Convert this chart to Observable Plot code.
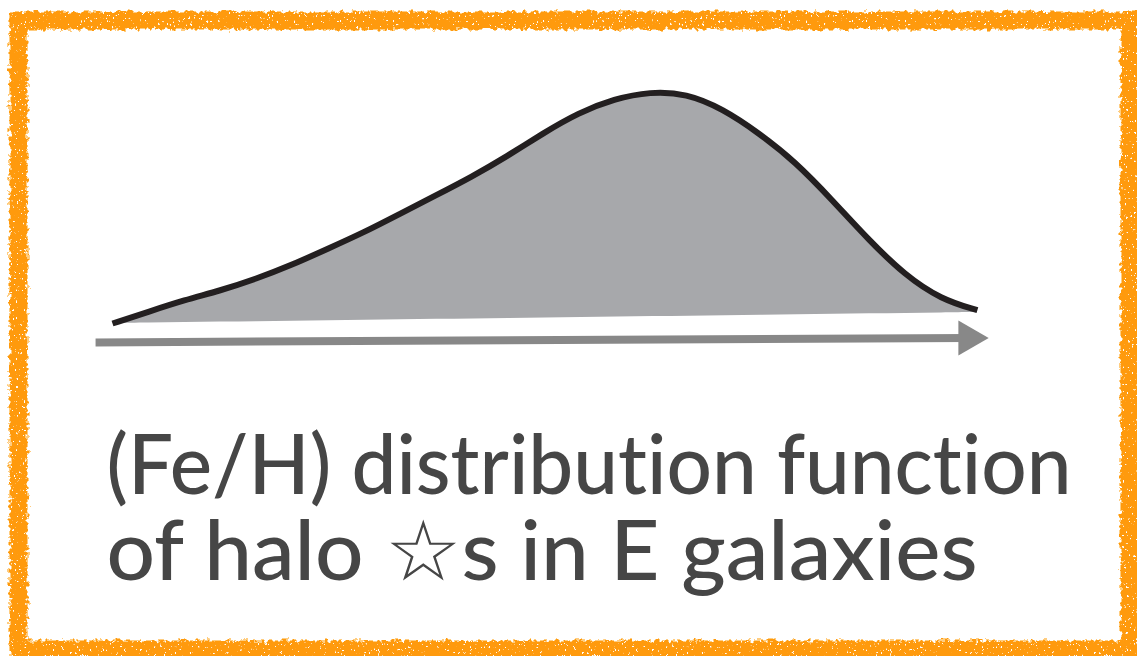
<!DOCTYPE html>
<html>
<head>
<meta charset="utf-8">
<script src="https://cdn.jsdelivr.net/npm/d3@7"></script>
<script src="https://cdn.jsdelivr.net/npm/@observablehq/plot@0.6"></script>
<style>
  body { margin: 0; background: #ffffff; }
  #chart svg { display: block; }
  #chart text { font-variant-ligatures: none; }
</style>
</head>
<body>
<div id="chart"></div>
<script>
// Metallicity grid ([Fe/H]) and relative number of halo stars at each value
const feh = [-2.0, -1.9, -1.8, -1.7, -1.6, -1.5, -1.4, -1.3, -1.2, -1.1, -1.0, -0.9, -0.8,
             -0.7, -0.6, -0.5, -0.4, -0.3, -0.2, -0.1, 0.0, 0.1, 0.2, 0.3, 0.4];
const density = [0.00, 0.05, 0.10, 0.14, 0.19, 0.25, 0.32, 0.39, 0.47, 0.55, 0.63, 0.72, 0.82,
                 0.91, 0.97, 1.00, 0.99, 0.92, 0.81, 0.68, 0.51, 0.33, 0.17, 0.06, 0.01];

// Metallicity axis arrow under the distribution
const arrowFeh = [-2.047, 0.375];
const arrowLevel = [-0.084, -0.064];

// Caption lines
const captionLines = ["(Fe/H) distribution function", "of halo \u2606s in E galaxies"];
const captionWidths = [965, 871];

const mdf = feh.map((x, i) => ({feh: x, n: density[i]}));
const arrow = [{x1: arrowFeh[0], x2: arrowFeh[1], y1: arrowLevel[0], y2: arrowLevel[1]}];

const orange = "#ff9a0c";
const arrowGray = "#888888";
const ink = "#464646";
const textStyle = {
  frameAnchor: "top-left",
  dx: 106,
  textAnchor: "start",
  lineAnchor: "bottom",
  fontSize: 84,
  fontWeight: 500,
  fontFamily: "Lato, 'Open Sans', 'DejaVu Sans', sans-serif",
  fill: ink
};

const chart = Plot.plot({
  width: 1137,
  height: 656,
  margin: 0,
  x: {domain: [-2.0, 0.4], range: [112, 977], axis: null},
  y: {domain: [0, 1], range: [323, 98], axis: null},
  marks: [
    Plot.frame({stroke: orange, strokeWidth: 18, insetLeft: 18, insetTop: 20, insetRight: 8, insetBottom: 7}),
    Plot.areaY(mdf, {x: "feh", y: "n", fill: "#a7a8ab", curve: "basis"}),
    Plot.lineY(mdf, {x: "feh", y: "n", stroke: "#231f20", strokeWidth: 6, strokeLinecap: "butt", curve: "basis"}),
    Plot.link(arrow, {x1: "x1", y1: "y1", x2: "x2", y2: "y2", stroke: arrowGray, strokeWidth: 8}),
    Plot.dot(arrow, {x: "x2", y: "y2", symbol: "triangle", r: 13, rotate: 90, fill: arrowGray, stroke: "none"}),
    Plot.text([captionLines[0]], {...textStyle, dy: 493, className: "cap-0"}),
    Plot.text([captionLines[1]], {...textStyle, dy: 579, className: "cap-1"})
  ]
});

const svg = d3.select(chart);

// Hand-drawn chalky look for the orange border
const defs = svg.insert("defs", ":first-child");
const f = defs.append("filter").attr("id", "chalk")
  .attr("x", "-5%").attr("y", "-5%").attr("width", "110%").attr("height", "110%");
f.append("feTurbulence").attr("type", "fractalNoise").attr("baseFrequency", 0.22)
  .attr("numOctaves", 2).attr("seed", 4).attr("result", "noise");
f.append("feDisplacementMap").attr("in", "SourceGraphic").attr("in2", "noise")
  .attr("scale", 8).attr("xChannelSelector", "R").attr("yChannelSelector", "G").attr("result", "disp");
f.append("feTurbulence").attr("type", "fractalNoise").attr("baseFrequency", "0.5 0.35")
  .attr("numOctaves", 2).attr("seed", 11).attr("result", "speck");
f.append("feColorMatrix").attr("in", "speck").attr("type", "matrix")
  .attr("values", "0 0 0 0 0  0 0 0 0 0  0 0 0 0 0  16 0 0 0 -11").attr("result", "holes");
f.append("feComposite").attr("in", "disp").attr("in2", "holes").attr("operator", "out");
svg.select("[aria-label=frame]").attr("filter", "url(#chalk)");

// The distribution sits on a slightly rising baseline
const sx = chart.scale("x"), sy = chart.scale("y");
const px = sx.apply(feh[0]), py = sy.apply(0);
svg.selectAll("[aria-label=area], [aria-label=line]").each(function() {
  const old = this.getAttribute("transform") || "";
  this.setAttribute("transform", `${old} rotate(-0.73 ${px} ${py})`.trim());
});

// Fit each caption line to its measured width
captionWidths.forEach((w, i) => {
  svg.selectAll(`.cap-${i} text`)
    .attr("textLength", w)
    .attr("lengthAdjust", "spacingAndGlyphs");
});

document.getElementById("chart").append(chart);
</script>
</body>
</html>
